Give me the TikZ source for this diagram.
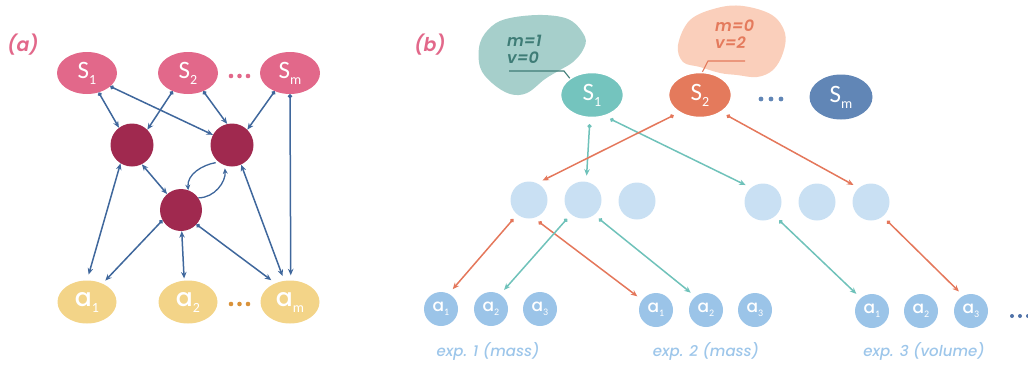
\documentclass[tikz,border=0pt]{standalone}
\usepackage{fontspec}
\setmainfont{Carlito}
\newfontfamily\geo{Poppins Medium}[ItalicFont={Poppins Medium Italic}]
\newfontfamily\geos{Poppins SemiBold}[ItalicFont={Poppins SemiBold Italic}]
\usetikzlibrary{arrows.meta,shapes.geometric,calc}
\definecolor{pinkS}{HTML}{E2688A}
\definecolor{darkred}{HTML}{A0294F}
\definecolor{yellowA}{HTML}{F3D488}
\definecolor{blueline}{HTML}{3F679C}
\definecolor{orangedot}{HTML}{D9923A}
\definecolor{tealS}{HTML}{74C4BE}
\definecolor{tealblob}{HTML}{A6CFCB}
\definecolor{tealdark}{HTML}{3E7C76}
\definecolor{orangeS}{HTML}{E47A5C}
\definecolor{peach}{HTML}{FACFBB}
\definecolor{blueSm}{HTML}{6186B6}
\definecolor{midc}{HTML}{C9E0F3}
\definecolor{smallc}{HTML}{9BC4E8}
\definecolor{labc}{HTML}{9DC6EA}
\definecolor{dotsb}{HTML}{4F72A8}
\definecolor{tealline}{HTML}{6FC2BA}
\definecolor{orangeline}{HTML}{E4775B}
\newcommand{\subA}[1]{\raisebox{-6pt}{\fontsize{14}{14}\selectfont #1}}
\newcommand{\subB}[1]{\raisebox{-4pt}{\fontsize{10}{10}\selectfont #1}}
\begin{document}
\begin{tikzpicture}[x=1pt,y=1pt,
  ellS/.style={ellipse, minimum width=60pt, minimum height=42pt, inner sep=0pt, text=white, font=\fontsize{25}{25}\selectfont},
  ellA/.style={ellipse, fill=yellowA, minimum width=59pt, minimum height=43pt, inner sep=0pt, text=white, font=\fontsize{25}{25}\selectfont},
  dark/.style={circle, fill=darkred, minimum size=43pt, inner sep=0pt},
  arrA/.style={draw=blueline, line width=1.5pt, {Circle[length=4pt]}-{Stealth[length=6.5pt,width=5.5pt]}},
  arrAA/.style={draw=blueline, line width=1.5pt, {Stealth[length=6.5pt,width=5.5pt]}-{Stealth[length=6.5pt,width=5.5pt]}},
  arrC/.style={draw=blueline, line width=1.3pt, -{Stealth[length=5.5pt,width=5pt]}},
  ellSb/.style={ellipse, minimum width=63pt, minimum height=45pt, inner sep=0pt, text=white, draw=white, line width=1.5pt, font=\fontsize{25}{25}\selectfont},
  midn/.style={circle, fill=midc, minimum size=37pt, inner sep=0pt},
  smalln/.style={circle, fill=smallc, minimum size=34pt, inner sep=0pt, text=white, font=\fontsize{17}{17}\selectfont},
  arrT/.style={draw=tealline, line width=1.5pt, shorten <=6pt, shorten >=6pt, {Circle[length=4pt]}-{Stealth[length=6.5pt,width=5.5pt]}},
  arrO/.style={draw=orangeline, line width=1.5pt, shorten <=6pt, shorten >=6pt, {Circle[length=4pt]}-{Stealth[length=6.5pt,width=5.5pt]}},
  blobtxt/.style={anchor=west, align=left, inner sep=0pt, font=\geos\itshape\fontsize{16}{17}\selectfont},
  explab/.style={text=labc, font=\geo\itshape\fontsize{15}{15}\selectfont},
  panlab/.style={text=pinkS, font=\geos\itshape\fontsize{19}{19}\selectfont}
]
\useasboundingbox (0,0) rectangle (1028,-365);
% ---------- panel (a)
\node[panlab] (pa) at (23,-45) {(a)};
\node[ellS, fill=pinkS] (S1) at (87,-73) {S\subA{1}};
\node[ellS, fill=pinkS] (S2) at (188,-73) {S\subA{2}};
\node[ellS, fill=pinkS] (Sm) at (290,-73) {S\subA{m}};
\foreach \x in {231,239.5,248} \fill[pinkS] (\x,-76) circle (2.3);
\node[dark] (L) at (132,-145) {};
\node[dark] (R) at (232,-145) {};
\node[dark, minimum size=42pt] (B) at (181,-210) {};
\node[ellA] (a1) at (87,-302) {{\geo a}\subA{1}};
\node[ellA] (a2) at (188,-302) {{\geo a}\subA{2}};
\node[ellA] (am) at (290,-302) {{\geo a}\subA{m}};
\foreach \x in {231,239.5,248} \fill[orangedot] (\x,-304) circle (2.3);
\draw[arrA] (S1.-59) -- (L.127);
\draw[arrA] (S1.-30) -- (R.152);
\draw[arrA] (S2.-130) -- (L.45);
\draw[arrA] (S2.-50) -- (R.103);
\draw[arrA] (Sm.-130) -- (R.45);
\draw[arrA, shorten >=5pt] (Sm.-90) -- (am.88);
\draw[arrAA, shorten >=6pt] (L.-122) -- (a1.90);
\draw[arrAA] (L.-63) -- (B.131);
\draw[arrAA, shorten >=5pt] (R.-65) -- (am.105);
\draw[arrA, shorten >=4pt] (B.-151) -- (a1.50);
\draw[arrAA, shorten >=2pt] (B.-88) -- (a2.100);
\draw[arrA, shorten >=5pt] (B.-43) -- (am.128);
\draw[arrC, shorten <=3pt] (R.-128) to[out=190,in=95] (B.70);
\draw[arrC, shorten >=3pt] (B.35) to[out=0,in=-85] (R.-110);
% ---------- panel (b)
\node[panlab] (pb) at (430,-45) {(b)};
\fill[tealblob] plot[smooth cycle, tension=0.6] coordinates {(480,-43) (492,-26) (510,-18) (543,-15) (570,-20) (585,-37) (583,-50) (573,-62) (560,-70) (545,-79) (527,-93) (510,-94) (492,-83) (480,-67)};
\fill[peach] plot[smooth cycle, tension=0.6] coordinates {(678,-45) (690,-20) (717,-8) (743,-6) (772,-15) (785,-33) (783,-53) (773,-70) (757,-77) (737,-75) (720,-73) (700,-67) (683,-62)};
\node[ellSb, fill=tealS] (S1b) at (592,-95) {S\subA{1}};
\node[ellSb, fill=orangeS] (S2b) at (700,-95) {S\subA{2}};
\node[ellSb, fill=blueSm, draw=none] (Smb) at (841,-97) {S\subA{m}};
\foreach \x in {761,771,781} \fill[blueSm] (\x,-99) circle (2.4);
\node[blobtxt, text=tealdark] (t1) at (507,-49) {m=1\\v=0};
\node[blobtxt, text=orangeS] (t2) at (715,-34) {m=0\\v=2};
\coordinate (u1) at (509,-71);
\coordinate (u2) at (745,-61);
\draw[tealdark, line width=1.1pt] (u1) -- (564,-71) -- (S1b.143);
\draw[orangeS, line width=1.1pt] (u2) -- (708,-61) -- (S2b.84);
\node[midn] (m1) at (529,-200) {};
\node[midn] (m2) at (583,-200) {};
\node[midn] (m3) at (637,-201) {};
\node[midn] (m4) at (763,-202) {};
\node[midn] (m5) at (817,-202) {};
\node[midn] (m6) at (871,-202) {};
\node[smalln] (e1a1) at (441,-309) {{\geo a}\subB{1}};
\node[smalln] (e1a2) at (491,-309) {{\geo a}\subB{2}};
\node[smalln] (e1a3) at (540,-309) {{\geo a}\subB{3}};
\node[smalln] (e2a1) at (656,-310) {{\geo a}\subB{1}};
\node[smalln] (e2a2) at (706,-310) {{\geo a}\subB{2}};
\node[smalln] (e2a3) at (755,-310) {{\geo a}\subB{3}};
\node[smalln] (e3a1) at (872,-311) {{\geo a}\subB{1}};
\node[smalln] (e3a2) at (921,-311) {{\geo a}\subB{2}};
\node[smalln] (e3a3) at (971,-311) {{\geo a}\subB{3}};
\foreach \x in {1012,1020,1028} \fill[dotsb] (\x,-316) circle (2);
\node[explab] (x1) at (488,-351) {exp. 1 (mass)};
\node[explab] (x2) at (706,-351) {exp. 2 (mass)};
\node[explab] (x3) at (924,-351) {exp. 3 (volume)};
\draw[arrT] (S1b.-95) -- (m2.80);
\draw[arrT] (S1b.-59) -- (m4.130);
\draw[arrO] (S2b.-140) -- (m1.64);
\draw[arrO] (S2b.-39) -- (m6.131);
\draw[arrO] (m1.-129) -- (e1a1.63);
\draw[arrO] (m1.-75) -- (e2a1.144);
\draw[arrT] (m2.-130) -- (e1a2.58);
\draw[arrT] (m2.-53) -- (e2a2.128);
\draw[arrT] (m4.-50) -- (e3a1.131);
\draw[arrO] (m6.-51) -- (e3a3.117);
\end{tikzpicture}
\end{document}
